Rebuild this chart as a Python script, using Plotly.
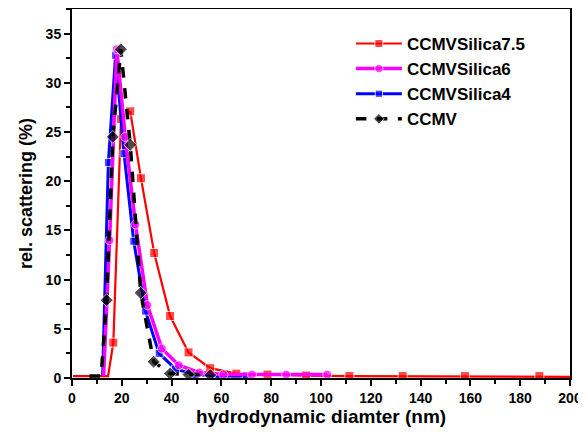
import plotly.graph_objects as go

# CCMVSilica7.5 (red)
red_x = [0.4, 14.5, 16.6, 19.7, 23.4, 27.7, 33.0, 39.4, 46.8, 55.5, 66.0, 78.5, 94.0, 111.4, 132.8, 157.8, 187.7, 223.0]
red_y = [0.2, 0.2, 3.6, 26.3, 27.1, 20.3, 12.7, 6.3, 2.6, 1.0, 0.45, 0.35, 0.25, 0.2, 0.2, 0.2, 0.2, 0.1]

# CCMVSilica6 (magenta)
mag_x = [12.7, 15.1, 18.0, 21.4, 25.5, 30.3, 36.1, 42.9, 51.1, 60.8, 72.3, 86.0, 102.5]
mag_y = [0.2, 14.0, 33.4, 24.5, 15.6, 7.4, 3.0, 1.3, 0.55, 0.35, 0.35, 0.35, 0.35]

# CCMVSilica4 (blue)
blu_x = [12.3, 14.6, 17.5, 20.9, 24.8, 29.5, 35.0, 41.6, 49.5, 59.0, 70.0]
blu_y = [0.2, 21.9, 32.8, 22.8, 13.9, 6.8, 2.5, 0.9, 0.35, 0.2, 0.2]

# CCMV (black)
blk_x = [7.0, 11.7, 13.9, 16.4, 19.6, 23.4, 27.6, 32.8, 39.4, 46.8, 55.5]
blk_y = [0.2, 0.2, 7.9, 24.5, 33.4, 23.7, 8.65, 1.65, 0.45, 0.35, 0.3]

x_ticks = list(range(0, 201, 20))
y_ticks = list(range(0, 36, 5))


def sizes(xs, first_visible, s):
    # hide markers on the flat baseline lead-in segment
    return [0 if x < first_visible else s for x in xs]


fig = go.Figure()
fig.add_trace(go.Scatter(x=red_x, y=red_y, name="CCMVSilica7.5", mode="lines+markers",
                         line=dict(color="#ff0000", width=2.2),
                         marker=dict(symbol="square", size=sizes(red_x, 16, 9), color="#ff0000"),
                         legendrank=1))
fig.add_trace(go.Scatter(x=blu_x, y=blu_y, name="CCMVSilica4", mode="lines+markers",
                         line=dict(color="#0000ff", width=3),
                         marker=dict(symbol="square", size=sizes(blu_x, 14, 8), color="#0000ff"),
                         legendrank=3))
fig.add_trace(go.Scatter(x=mag_x, y=mag_y, name="CCMVSilica6", mode="lines+markers",
                         line=dict(color="#ff00ff", width=3.5),
                         marker=dict(symbol="circle", size=sizes(mag_x, 14, 9), color="#ff00ff"),
                         legendrank=2))
fig.add_trace(go.Scatter(x=blk_x, y=blk_y, name="CCMV", mode="lines+markers",
                         line=dict(color="#000000", width=3.5, dash="dash"),
                         marker=dict(symbol="diamond", size=sizes(blk_x, 13, 10), color="#000000"),
                         legendrank=4))

axis_common = dict(showline=True, linecolor="black", linewidth=2, mirror=True,
                   ticks="outside", tickcolor="black", tickwidth=2, ticklen=6,
                   showgrid=False, zeroline=False, automargin=False,
                   tickfont=dict(family="Liberation Sans", size=14, color="black", weight="bold"))

fig.update_xaxes(range=[0, 200], tickvals=x_ticks,
                 minor=dict(dtick=10, ticks="outside", ticklen=4, tickcolor="black", tickwidth=2),
                 title=dict(text="hydrodynamic diamter (nm)", standoff=1,
                            font=dict(family="Liberation Sans", size=19, color="black", weight="bold")),
                 **axis_common)
fig.update_yaxes(range=[0, 37.5], tickvals=y_ticks,
                 minor=dict(dtick=2.5, ticks="outside", ticklen=4, tickcolor="black", tickwidth=2),
                 title=dict(text="rel. scattering (%)", standoff=8,
                            font=dict(family="Liberation Sans", size=18, color="black", weight="bold")),
                 **axis_common)

# the page body adds an 8px offset, so the figure is sized to fit the window
fig.update_layout(
    width=578, height=425,
    margin=dict(l=64, r=16, t=1, b=55),
    plot_bgcolor="white", paper_bgcolor="white",
    legend=dict(x=0.56, y=0.954, xanchor="left", yanchor="top",
                bgcolor="rgba(0,0,0,0)",
                font=dict(family="Liberation Sans", size=17, color="black", weight="bold"),
                tracegroupgap=1, itemwidth=46),
)

fig.write_html("out.html")
